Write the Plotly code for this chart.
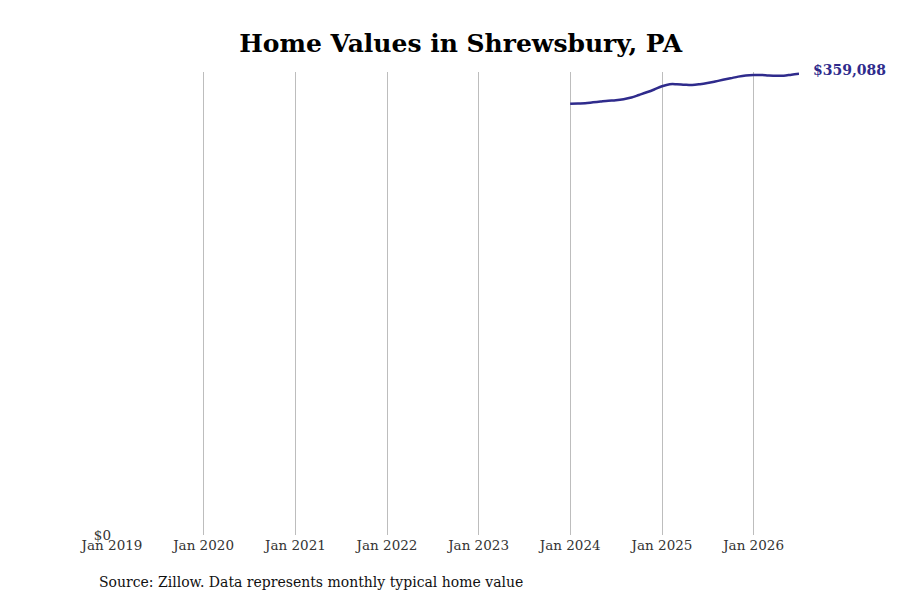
import plotly.graph_objects as go
import pandas as pd

# Monthly typical home value, Jan 2024 - Jul 2026
months = pd.date_range("2024-01-01", "2026-07-01", freq="MS")
home_values = [
    335800, 336000, 336200, 336900, 337500, 338100, 338500, 339300,
    340600, 342600, 344700, 346900,
    349400, 351000, 351000, 350600, 350400, 351000, 351900, 353100,
    354400, 355600, 356900, 357800,
    358200, 358200, 357800, 357500, 357600, 358400, 359088,
]
last_label = "$359,088"
title_text = "Home Values in Shrewsbury, PA"
source_text = "Source: Zillow. Data represents monthly typical home value"

line_color = "#2f2b8c"
serif = "DejaVu Serif"

fig = go.Figure()

fig.add_trace(go.Scatter(
    x=months,
    y=home_values,
    mode="lines",
    line=dict(color=line_color, width=2.5, shape="spline"),
    showlegend=False,
    hoverinfo="x+y",
))

# label next to the last point
fig.add_annotation(
    x=months[-1], y=home_values[-1],
    text="<b>" + last_label + "</b>",
    showarrow=False,
    xanchor="left", yanchor="middle",
    xshift=12, yshift=4,
    font=dict(family=serif, size=14, color=line_color),
)

fig.add_annotation(
    xref="paper", yref="paper",
    x=-0.022, y=-0.1015,
    text=source_text,
    showarrow=False,
    xanchor="left", yanchor="middle",
    font=dict(family=serif, size=14, color="#111"),
)

# the page adds an 8px body margin, so margins are trimmed to compensate
fig.update_layout(
    width=900, height=600,
    margin=dict(l=104, r=109, t=64, b=73),
    title=dict(
        text="<b>" + title_text + "</b>",
        x=0.503, xref="container", xanchor="center",
        y=0.942, yref="container", yanchor="middle",
        font=dict(family=serif, size=25, color="#000"),
    ),
    plot_bgcolor="white",
    paper_bgcolor="white",
    font=dict(family=serif, size=14, color="#333"),
)

fig.update_xaxes(
    range=["2019-01-01", "2026-07-01"],
    dtick="M12",
    tick0="2019-01-01",
    tickformat="%b %Y",
    showgrid=True,
    gridcolor="#bdbdbd",
    gridwidth=1,
    showline=False,
    zeroline=False,
    ticks="",
    tickfont=dict(family=serif, size=13.5, color="#333"),
)

fig.update_yaxes(
    range=[0, 360500],
    tickvals=[0],
    ticktext=["$0"],
    showgrid=False,
    zeroline=False,
    showline=False,
    ticks="",
    tickfont=dict(family=serif, size=13.5, color="#333"),
)

fig.write_html("out.html")
